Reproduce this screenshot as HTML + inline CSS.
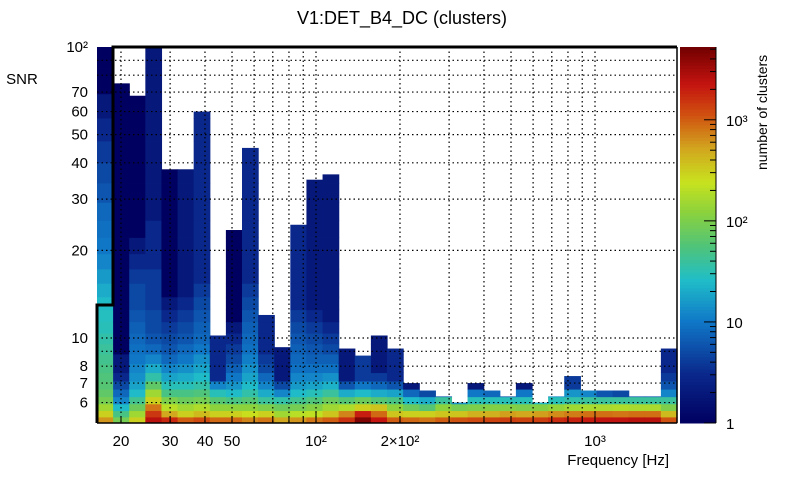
<!DOCTYPE html>
<html><head><meta charset="utf-8"><style>
body{margin:0;background:#fff;font-family:"Liberation Sans",sans-serif;}
svg text{font-family:"Liberation Sans",sans-serif;}
</style></head><body>
<svg id="chart" width="805" height="472" xmlns="http://www.w3.org/2000/svg">
<text x="402" y="24" font-size="18" text-anchor="middle">V1:DET_B4_DC (clusters)</text>
<g id="cells"></g>
<g id="grid"></g>
<g id="axes"></g>
<g id="cbar"></g>
<text x="22" y="84" font-size="15" text-anchor="middle">SNR</text>
<text x="669" y="465" font-size="15" text-anchor="end">Frequency [Hz]</text>
<text transform="translate(767,170) rotate(-90)" font-size="14">number of clusters</text>
</svg>
<script>
// data
const colTops = [100,75,68,100,38,38,60,10.2,23.5,45,12,9.3,24.5,35,36.5,9.2,8.7,10.2,9.2,7.0,6.6,6.3,6.0,7.0,6.6,6.3,7.0,6.0,6.3,7.4,6.6,6.6,6.6,6.3,6.3,9.2];
const colCounts = [
 [600,300,150,90,70,60,55,50,45,40,35,30,28,25,20,16,12,10,9,8,6,5,4,3,2,1],
 [90,50,25,12,8,5,3,2,2,1,1],
 [300,150,80,45,25,18,14,12,10,9,8,7,6,5,5,4,3,2,1],
 [2500,1500,800,300,150,70,35,20,12,8,6,5,5,4,4,4,3,3,3,2,2],
 [1800,500,200,100,50,30,18,12,8,6,5,4,3,2,1],
 [1000,300,150,80,50,30,20,14,10,8,6,5,4,3,2],
 [1200,400,180,90,55,35,25,18,14,10,8,7,6,5,4,3],
 [900,300,120,60,30,12,3],
 [900,300,120,50,25,15,10,7,5,4,3,2,1],
 [700,250,120,60,35,25,18,14,11,9,8,7,6,5,4,3],
 [800,300,100,40,20,12,8,5,4,3],
 [500,150,80,35,12,5,2],
 [600,200,90,45,25,16,12,9,8,7,6,5,4,3],
 [800,220,110,55,30,18,12,9,7,6,5,4,3,2],
 [1000,350,150,80,40,22,14,9,7,5,4,3,2],
 [1600,700,180,60,20,6,2],
 [4500,2000,300,80,25,10,4],
 [2200,900,350,60,20,8,4,2],
 [1000,350,120,50,18,6,3],
 [900,300,80,25,8,2],
 [800,300,60,20,5],
 [1000,350,120,40,6],
 [1100,350,90,15],
 [1200,450,100,30,10,2],
 [1300,450,110,30,8,2],
 [1400,550,110,30,6],
 [1300,500,100,30,10,2],
 [1400,550,110,25],
 [1700,650,130,30,12],
 [1900,750,150,35,15,4],
 [2100,850,170,40,12],
 [2300,850,170,40,6],
 [2300,800,180,40,5],
 [2500,850,170,40,6],
 [2500,850,170,40,6],
 [1100,400,100,40,12,6,4,3]
];
const xTickVals = [20,30,40,50,100,200,1000];
const xTickLabels = ["20","30","40","50","10²","2×10²","10³"];
const yTickVals = [6,7,8,10,20,30,40,50,60,70,100];
const yTickLabels = ["6","7","8","10","20","30","40","50","60","70","10²"];
const cbTickVals = [1,10,100,1000];
const cbTickLabels = ["1","10","10²","10³"];

const NS="http://www.w3.org/2000/svg";
const L=97,R=677,T=47,B=423;
const xDec=279, x100=316, yDec=291, y10=338;
const xs=f=>x100+(Math.log10(f)-2)*xDec;
const ys=s=>y10-(Math.log10(s)-1)*yDec;
const cbTop=47,cbBot=423,cbMax=5250;
const cbs=c=>cbBot-(Math.log10(c)/Math.log10(cbMax))*(cbBot-cbTop);
const stops=[[0,[0,0,96]],[0.13,[10,40,140]],[0.27,[16,120,200]],[0.38,[32,190,200]],[0.47,[80,196,120]],[0.56,[140,210,60]],[0.64,[200,226,30]],[0.73,[210,165,30]],[0.82,[208,80,16]],[0.9,[196,20,16]],[1,[112,0,0]]];
function color(c){
 let t=Math.max(0,Math.min(1,Math.log10(Math.max(c,1))/Math.log10(cbMax)));
 for(let i=1;i<stops.length;i++){ if(t<=stops[i][0]){const a=stops[i-1],b=stops[i];const u=(t-a[0])/(b[0]-a[0]);
  const r=a[1].map((v,k)=>Math.round(v+(b[1][k]-v)*u));return `rgb(${r[0]},${r[1]},${r[2]})`;}}
 return 'rgb(112,0,0)';
}
function mk(tag,attrs,parent){const e=document.createElementNS(NS,tag);for(const k in attrs)e.setAttribute(k,attrs[k]);parent.appendChild(e);return e;}
// row edges (binning)
const rowEdges=[B];let h=6;while(rowEdges[rowEdges.length-1]>T){rowEdges.push(Math.max(T,rowEdges[rowEdges.length-1]-h));h*=1.06;}
const cells=document.getElementById('cells');
const nCol=colTops.length, cw=(R-L)/nCol;
colTops.forEach((top,ci)=>{
 const yt=Math.max(T,ys(top));const counts=colCounts[ci];
 for(let r=0;r<rowEdges.length-1;r++){
  const yb=rowEdges[r];let ya=rowEdges[r+1];
  if(yb<=yt)break; if(ya<yt)ya=yt;
  const c=counts[Math.min(r,counts.length-1)];
  const el=mk('rect',{x:L+ci*cw,y:ya,width:cw+0.6,height:yb-ya+0.4,fill:color(c)},cells);
  
  
 }
});
// grid
const grid=document.getElementById('grid');
const gx=[20,30,40,50,60,70,80,90,100,200,300,400,500,600,700,800,900,1000];
gx.forEach(f=>mk('line',{x1:xs(f),x2:xs(f),y1:T,y2:B,stroke:'#000','stroke-width':1.2,'stroke-dasharray':'1.5,3'},grid));
const gy=[6,7,8,9,10,20,30,40,50,60,70,80,90];
gy.forEach(s=>mk('line',{x1:L,x2:R,y1:ys(s),y2:ys(s),stroke:'#000','stroke-width':1.2,'stroke-dasharray':'1.5,3'},grid));
// axes
const ax=document.getElementById('axes');
mk('line',{x1:L,x2:R,y1:B,y2:B,stroke:'#000','stroke-width':1.5},ax);
mk('line',{x1:R,x2:R,y1:T,y2:B,stroke:'#000','stroke-width':1.5},ax);
mk('path',{d:`M${R},${T} L113,${T} L113,305 L${L},305 L${L},${B}`,fill:'none',stroke:'#000','stroke-width':3},ax);
for(let f=20;f<=2000;f+= (f<100?10:(f<1000?100:1000))){const x=xs(f);if(x>R)break;mk('line',{x1:x,x2:x,y1:B,y2:B-([100,1000].includes(f)?12:6),stroke:'#000'},ax);}
xTickVals.forEach((v,i)=>{const t=mk('text',{x:xs(v),y:446,'font-size':15,'text-anchor':'middle'},ax);t.textContent=xTickLabels[i];
 
 });
yTickVals.forEach((v,i)=>{const t=mk('text',{x:88,y:ys(v)+5,'font-size':15,'text-anchor':'end'},ax);t.textContent=yTickLabels[i];
 
 });
// colorbar
const cb=document.getElementById('cbar');
for(let i=0;i<120;i++){const y0=cbTop+i*(cbBot-cbTop)/120;const v=Math.pow(10,(cbBot-(y0+1.6))/(cbBot-cbTop)*Math.log10(cbMax));
 mk('rect',{x:680,y:y0,width:36,height:(cbBot-cbTop)/120+0.5,fill:color(v)},cb);}
mk('line',{x1:716,x2:716,y1:cbTop,y2:cbBot,stroke:'#000'},cb);
for(let d=1;d<=1000;d*=10)for(let m=1;m<10;m++){const v=d*m;if(v>cbMax)break;const y=cbs(v);mk('line',{x1:716,x2:716-(m==1?12:6),y1:y,y2:y,stroke:'#000'},cb);}
cbTickVals.forEach((v,i)=>{const t=mk('text',{x:726,y:cbs(v)+6,'font-size':15},cb);t.textContent=cbTickLabels[i];
 
 });
</script>
</body></html>
